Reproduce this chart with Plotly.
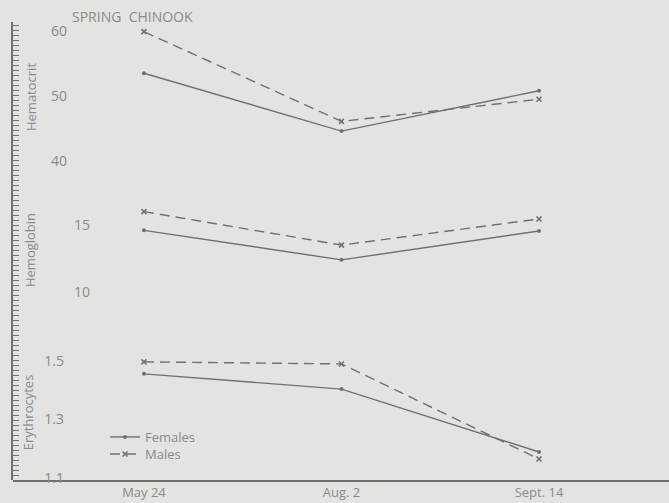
import plotly.graph_objects as go

dates = ["May 24", "Aug. 2", "Sept. 14"]
hematocrit_females = [53.5, 44.6, 50.8]
hematocrit_males = [59.9, 46.1, 49.5]
hemoglobin_females = [14.6, 12.4, 14.55]
hemoglobin_males = [16.0, 13.5, 15.45]
erythrocytes_females = [1.456, 1.404, 1.189]
erythrocytes_males = [1.497, 1.49, 1.165]
hematocrit_ticks = [40, 50, 60]
hemoglobin_ticks = [10, 15]
erythrocyte_ticks = [1.1, 1.3, 1.5]
erythrocyte_ticktext = ["1.1", "1.3", "1.5"]

BG = "#e3e3e1"
LINE = "#707070"
TEXT = "#8a8a8a"
FONT = "Open Sans"

fig = go.Figure()

series = [
    ("y", hematocrit_females, hematocrit_males),
    ("y2", hemoglobin_females, hemoglobin_males),
    ("y3", erythrocytes_females, erythrocytes_males),
]
for i, (ax, fem, mal) in enumerate(series):
    fig.add_trace(go.Scatter(
        x=dates, y=fem, yaxis=ax, mode="lines+markers", name="Females",
        line=dict(color=LINE, width=1.4),
        marker=dict(symbol="circle", size=4, color=LINE),
        showlegend=(i == 0), legend="legend", hoverinfo="skip"))
    fig.add_trace(go.Scatter(
        x=dates, y=mal, yaxis=ax, mode="lines+markers", name="Males",
        line=dict(color=LINE, width=1.4, dash="10px,6px"),
        marker=dict(symbol="x-thin", size=5, color=LINE, line=dict(color=LINE, width=1.5)),
        showlegend=(i == 0), legend="legend2", hoverinfo="skip"))

# ruler axis carrier
fig.add_trace(go.Scatter(x=[dates[0]], y=[None], yaxis="y4", showlegend=False, hoverinfo="skip"))

common = dict(showgrid=False, zeroline=False, showline=False, ticks="",
              tickfont=dict(family=FONT, size=14, color=TEXT),
              anchor="free")

legend_common = dict(xanchor="left", yanchor="middle", bgcolor="rgba(0,0,0,0)",
                     font=dict(family=FONT, size=13, color=TEXT), itemwidth=30)

fig.update_layout(
    width=669, height=503,
    margin=dict(l=13, r=0, t=22, b=23),
    paper_bgcolor=BG, plot_bgcolor="rgba(0,0,0,0)",
    font=dict(family=FONT, color=TEXT),
    showlegend=True,
    legend=dict(x=(105 - 13) / 656, y=(480 - 437) / 458, **legend_common),
    legend2=dict(x=(105 - 13) / 656, y=(480 - 454) / 458, **legend_common),
    xaxis=dict(type="category", range=[-0.663, 2.658], showgrid=False, zeroline=False,
               showline=True, linecolor=LINE, linewidth=1.5, ticks="",
               tickfont=dict(family=FONT, size=13, color=TEXT), anchor="y3"),
    yaxis=dict(domain=[(480 - 172) / 458, 1], range=[38.31, 61.385],
               tickvals=hematocrit_ticks, position=(67 - 13) / 656,
               title=dict(text="Hematocrit", font=dict(family=FONT, size=13, color=TEXT), standoff=10),
               **common),
    yaxis2=dict(domain=[(480 - 310) / 458, (480 - 190) / 458], range=[8.657, 17.612],
                tickvals=hemoglobin_ticks, position=(81 - 13) / 656, ticklabelstandoff=-9,
                title=dict(text="Hemoglobin", font=dict(family=FONT, size=13, color=TEXT), standoff=34),
                **common),
    yaxis3=dict(domain=[0, (480 - 345) / 458], range=[1.0932, 1.5547],
                tickvals=erythrocyte_ticks, ticktext=erythrocyte_ticktext, position=(64 - 13) / 656,
                title=dict(text="Erythrocytes", font=dict(family=FONT, size=13, color=TEXT), standoff=6),
                **common),
    yaxis4=dict(domain=[0, 1], range=[0, 458], anchor="x", side="left",
                showgrid=False, zeroline=False, showline=True, linecolor=LINE, linewidth=1.5,
                ticks="inside", ticklen=6, tickwidth=1, tickcolor=LINE, tick0=0, dtick=5,
                showticklabels=False),
    annotations=[dict(text="SPRING  CHINOOK", xref="paper", yref="paper",
                      x=(70 - 13) / 656, y=(480 - 16) / 458, xanchor="left", yanchor="middle",
                      showarrow=False, font=dict(family=FONT, size=14, color=TEXT))],
)

fig.write_html("out.html", config={"displayModeBar": False},
               post_script="document.body.style.margin='0';document.body.style.background='%s';" % BG)
